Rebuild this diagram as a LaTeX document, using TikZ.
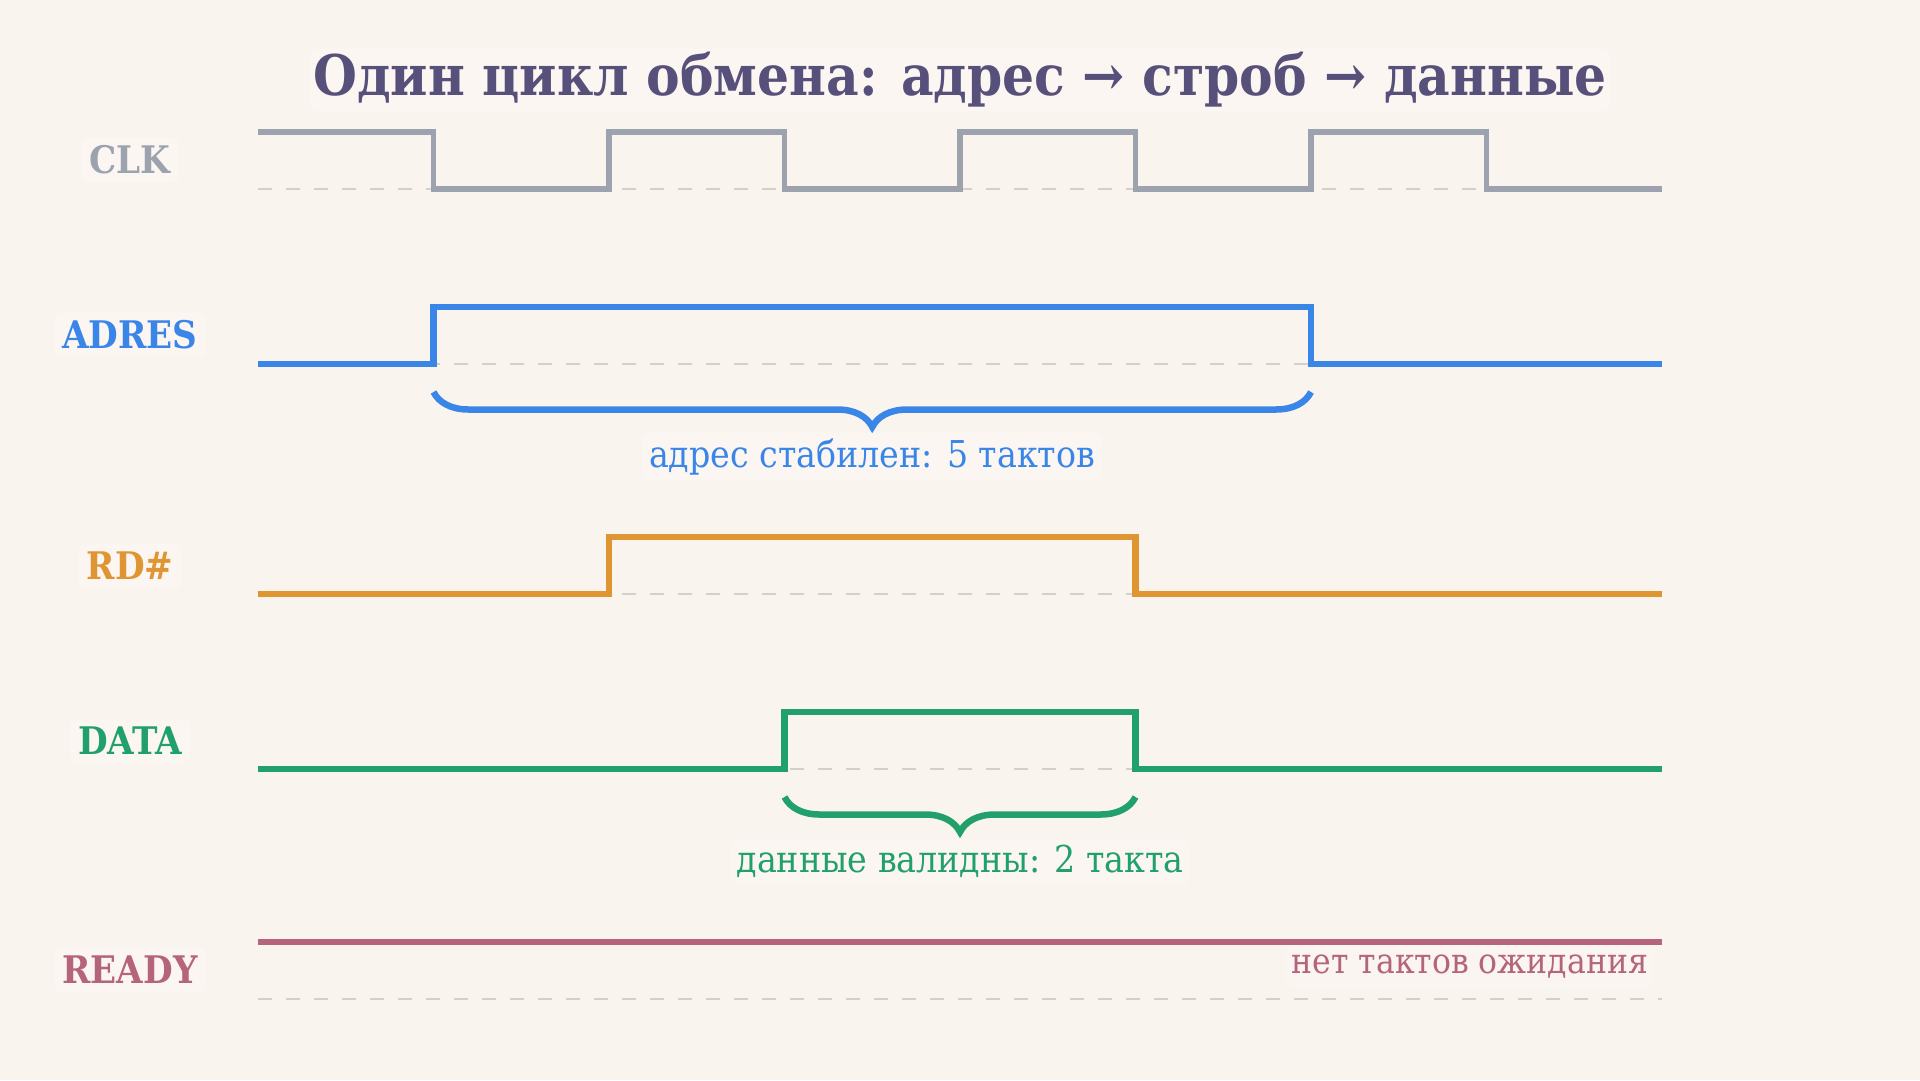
\documentclass[tikz,border=0pt]{standalone}
\usepackage{fontspec}
\setmainfont{DejaVu Serif Condensed}
\usetikzlibrary{positioning,decorations.pathreplacing}
\definecolor{paper}{HTML}{FAF4EE}
\definecolor{labelbg}{HTML}{FBF6F1}
\definecolor{ink}{HTML}{56507A}
\definecolor{clkgray}{HTML}{9CA3AF}
\definecolor{adresblue}{HTML}{3A86E8}
\definecolor{rdorange}{HTML}{E09533}
\definecolor{datagreen}{HTML}{22A06B}
\definecolor{readyred}{HTML}{B5657B}
\definecolor{gridgray}{HTML}{D2CFCD}
\tikzset{
    every node/.style={font=\fontsize{37}{42}\selectfont},
    siglabel/.style={font=\fontsize{38}{44}\selectfont\bfseries, fill=labelbg, rounded corners=6pt, inner sep=8pt},
    note/.style={fill=labelbg, rounded corners=6pt, inner sep=6pt},
    wave/.style={line width=6.5, line join=miter},
    zeroline/.style={gridgray, line width=2, dash pattern=on 14 off 14},
    spanbrace/.style={decorate, decoration={brace, mirror, amplitude=35}, line width=6.5},
}

\begin{document}
\begin{tikzpicture}[x=1pt, y=-1pt]
\path[use as bounding box, fill=paper] (0,0) rectangle (1920,1080);
\node[font=\fontsize{56}{62}\selectfont\bfseries, text=ink, fill=labelbg, rounded corners=8pt] (title) at (960,80) {Один цикл обмена: адрес → строб → данные};
% signal names in the left column
\node[siglabel, text=clkgray] (lclk) at (130,160) {CLK};
\node[siglabel, text=adresblue] (ladres) at (130,335) {ADRES};
\node[siglabel, text=rdorange] (lrd) at (130,566) {RD\#};
\node[siglabel, text=datagreen] (ldata) at (130,741) {DATA};
\node[siglabel, text=readyred] (lready) at (130,970) {READY};
% dashed zero levels under every signal
\draw[zeroline] (258,189) -- (1662,189);
\draw[zeroline] (258,364) -- (1662,364);
\draw[zeroline] (258,594) -- (1662,594);
\draw[zeroline] (258,769) -- (1662,769);
\draw[zeroline] (258,999) -- (1662,999);
% the waveforms
\draw[wave, clkgray, line width=5.5] (258,132) -| (433.5,189) -| (609,132) -| (784.5,189) -| (960,132) -| (1135.5,189) -| (1311,132) -| (1486.5,189) -- (1662,189);
\draw[wave, adresblue] (258,364) -| (433.5,307) -| (1311,364) -- (1662,364);
\draw[wave, rdorange] (258,594) -| (609,537) -| (1135.5,594) -- (1662,594);
\draw[wave, datagreen] (258,769) -| (784.5,712) -| (1135.5,769) -- (1662,769);
\draw[wave, readyred] (258,942) -- (1662,942);
% braces with their notes
\draw[spanbrace, adresblue] (433.5,392) -- (1311,392);
\node[note, text=adresblue] (adresnote) at (872,457) {адрес стабилен: 5 тактов};
\draw[spanbrace, datagreen] (784.5,797) -- (1135.5,797);
\node[note, text=datagreen] (datanote) at (960,861) {данные валидны: 2 такта};
\node[note, text=readyred, font=\fontsize{35}{40}\selectfont, inner ysep=9pt, anchor=east, fill opacity=0.8, text opacity=1] (readynote) at (1654,967) {нет тактов ожидания};
\end{tikzpicture}
\end{document}
